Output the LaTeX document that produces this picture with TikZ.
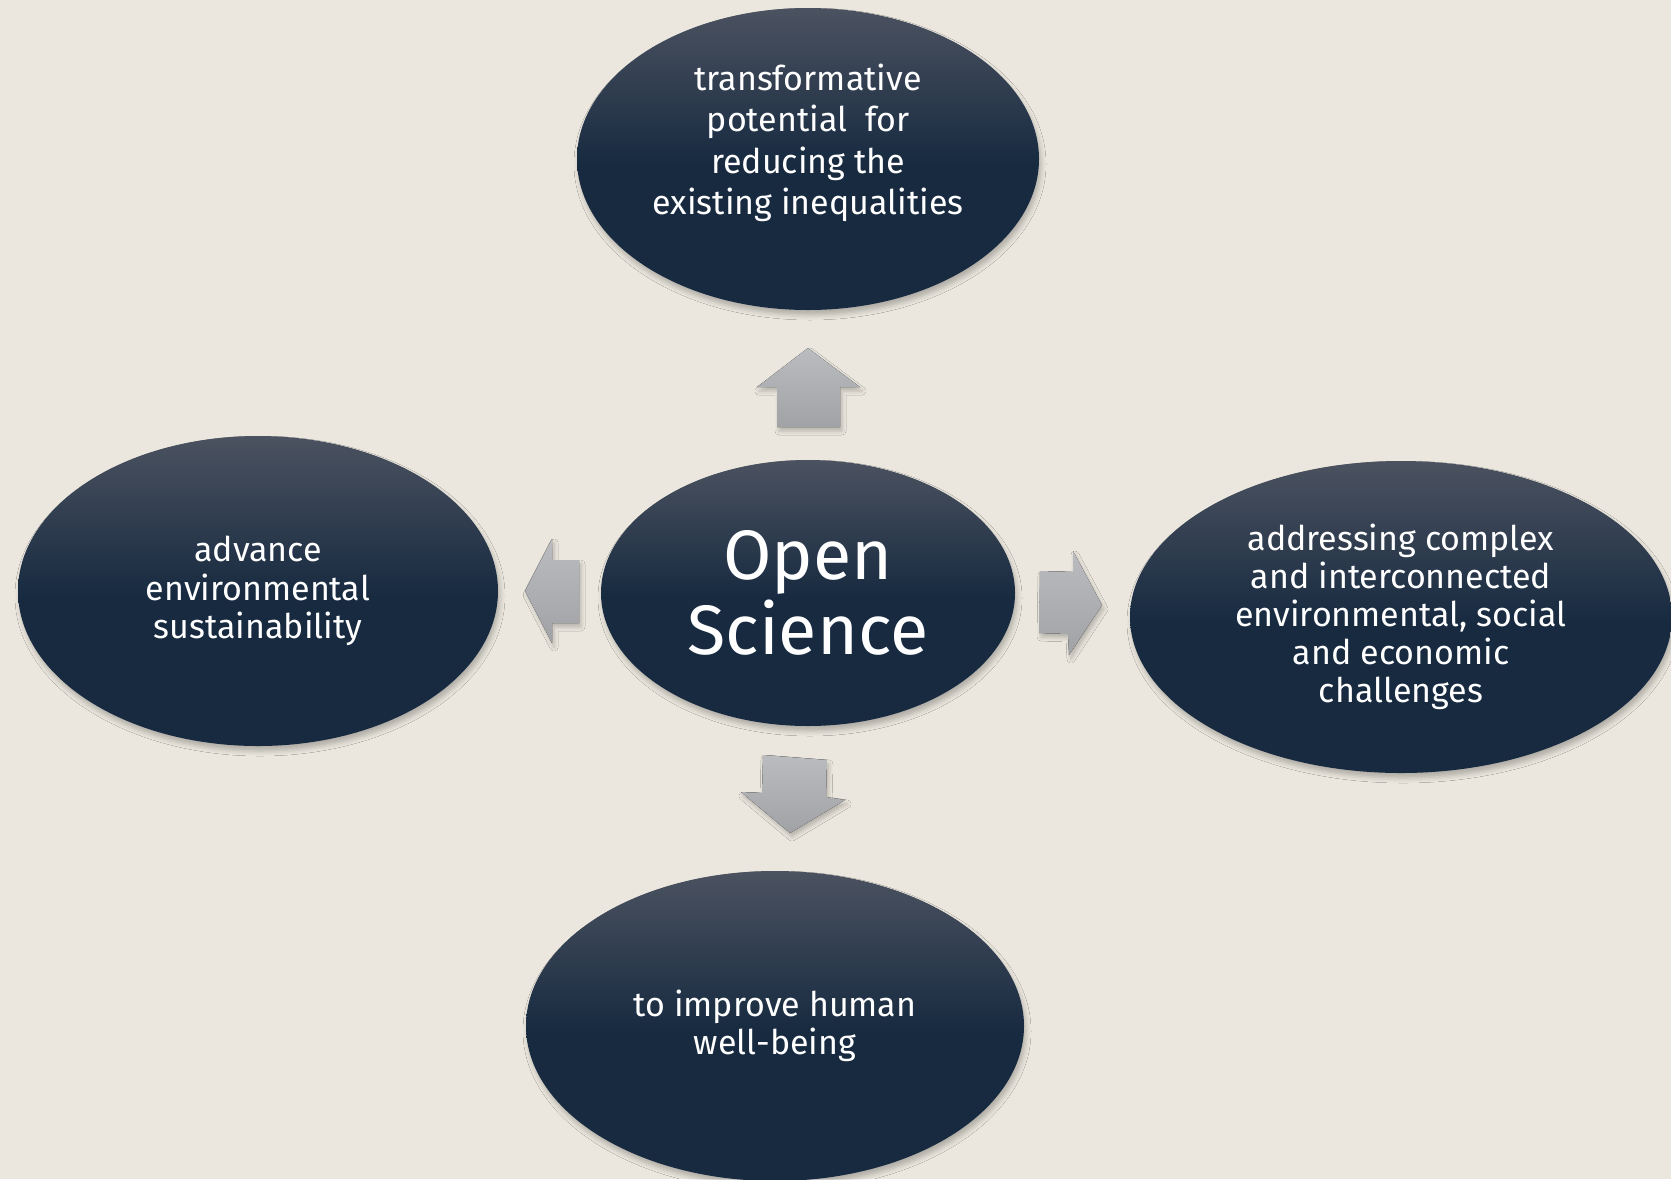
\documentclass[tikz,border=0pt]{standalone}
\usepackage{fontspec}
\setmainfont{Fira Sans}
\usetikzlibrary{shapes.geometric,shadows.blur}

\definecolor{paper}{HTML}{EBE7DE}
\definecolor{bubbleTop}{HTML}{4B5260}
\definecolor{bubbleBot}{HTML}{172A40}
\definecolor{arrowTop}{HTML}{BBBCBF}
\definecolor{arrowBot}{HTML}{A1A2A6}

% vertical shadings (bottom to top, path box mapped on 25bp..75bp)
\pgfdeclareverticalshading{bubbleshade}{100bp}{%
  color(0bp)=(bubbleBot); color(25bp)=(bubbleBot); color(49bp)=(bubbleBot);
  color(75bp)=(bubbleTop); color(100bp)=(bubbleTop)}
\pgfdeclareverticalshading{arrowshade}{100bp}{%
  color(0bp)=(arrowBot); color(25bp)=(arrowBot);
  color(75bp)=(arrowTop); color(100bp)=(arrowTop)}

\tikzset{
  bubble/.style={ellipse, draw=none, shading=bubbleshade, inner sep=0pt,
    blur shadow={shadow xshift=2pt, shadow yshift=-5pt,
      shadow blur radius=5pt, shadow opacity=25}},
  btext/.style={text=white, align=center, font=\fontsize{34}{38.5}\selectfont},
  bigtext/.style={text=white, align=center, font=\fontsize{70}{75}\selectfont},
  blockarrow/.style={shading=arrowshade,
    blur shadow={shadow xshift=2pt, shadow yshift=-4pt,
      shadow blur radius=4pt, shadow opacity=22}},
}

\begin{document}
\begin{tikzpicture}[x=1pt,y=-1pt]
  \useasboundingbox (0,0) rectangle (1671,1179);
  \clip (0,0) rectangle (1671,1179);
  \fill[paper] (0,0) rectangle (1671,1179);

  % outer ideas
  \node[bubble, minimum width=462, minimum height=302] (top) at (808,159) {};
  \node[btext, font=\fontsize{34}{41.5}\selectfont] (toptext) at ([yshift=16pt]top.center)
    {transformative\\potential\ \ for\\reducing the\\existing inequalities};

  \node[bubble, minimum width=480, minimum height=310, btext] (left) at (258,591)
    {advance\\environmental\\sustainability};

  \node[bubble, minimum width=542, minimum height=312, btext,
        font=\fontsize{34}{38}\selectfont] (right) at (1401,617)
    {addressing complex\\and interconnected\\environmental, social\\and economic\\challenges};

  \node[bubble, minimum width=498, minimum height=310, btext] (bottom) at (775,1026)
    {to improve human\\well-being};

  % central idea
  \node[bubble, minimum width=414, minimum height=266, bigtext] (core) at (808,593)
    {Open\\Science};

  % block arrows pointing outwards
  \fill[blockarrow] (777,427) -- (777,387) -- (757,387) -- (808,348)
    -- (860,387) -- (840,387) -- (840,427) -- cycle;
  \fill[blockarrow] (579,560) -- (552,560) -- (552,539) -- (525,591)
    -- (552,643) -- (552,623) -- (579,623) -- cycle;
  \fill[blockarrow] (1040,571) -- (1073,572) -- (1073,551) -- (1102,605)
    -- (1069,655) -- (1068,634) -- (1039,633) -- cycle;
  \fill[blockarrow] (763,755) -- (827,760) -- (826,797) -- (845,800)
    -- (790,833) -- (741,792) -- (762,793) -- cycle;
\end{tikzpicture}
\end{document}
